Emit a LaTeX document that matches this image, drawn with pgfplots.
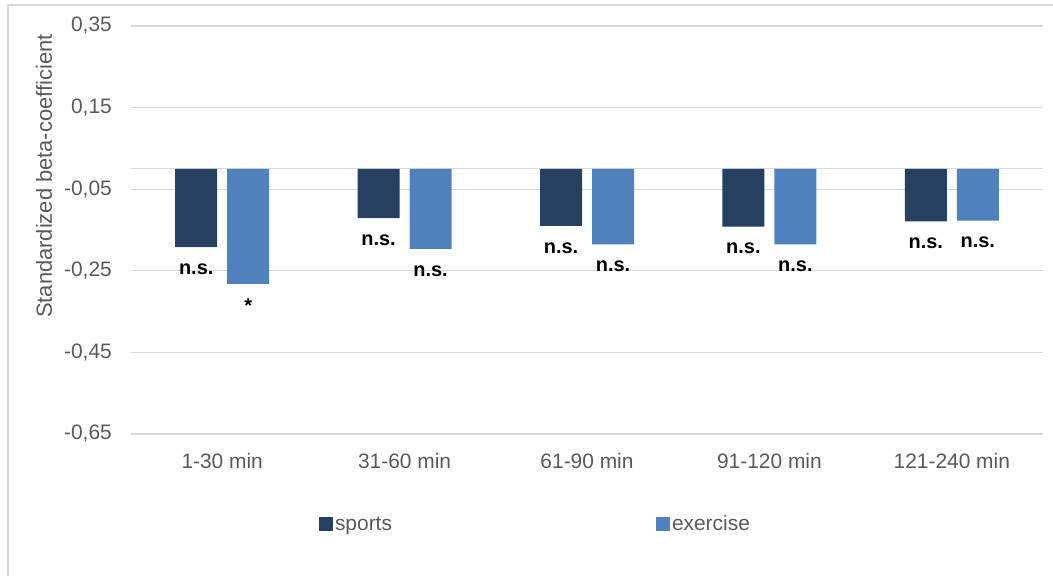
\documentclass[border=0pt]{standalone}
\usepackage{pgfplots}
\pgfplotsset{compat=1.18}
\usepackage{fontspec}
\setmainfont{Liberation Sans}
\definecolor{sportsc}{RGB}{37,64,97}
\definecolor{exc}{RGB}{79,129,189}
\definecolor{tickc}{RGB}{89,89,89}
\definecolor{gridc}{RGB}{217,217,217}
\begin{document}
\begin{tikzpicture}[x=1bp,y=1bp]
\useasboundingbox (0,0) rectangle (1053,576);
\draw[gridc, line width=1.2bp] (8,0) -- (8,571) -- (1053,571);
\begin{axis}[
  at={(131bp,142bp)}, anchor=south west,
  scale only axis, width=912bp, height=408bp,
  xmin=-0.5, xmax=4.5, ymin=-0.65, ymax=0.35,
  ybar=10bp, bar width=42bp,
  xtick={0,1,2,3,4},
  xticklabels={1-30 min,31-60 min,61-90 min,91-120 min,121-240 min},
  ytick={-0.65,-0.45,-0.25,-0.05,0.15,0.35},
  extra y ticks={0}, extra y tick labels={},
  extra y tick style={grid=major},
  ymajorgrids, major grid style={gridc, line width=1.2bp},
  major tick length=0pt,
  axis line style={draw=none},
  /pgf/number format/.cd, fixed, fixed zerofill, precision=2, use comma, assume math mode=true,
  /pgfplots/.cd,
  ticklabel style={font=\fontsize{21}{25}\selectfont, text=tickc},
  yticklabel style={anchor=east, inner sep=0pt, xshift=-19bp},
  xticklabel style={anchor=center, inner sep=0pt, yshift=-27bp},
  ylabel={Standardized beta-coefficient},
  ylabel style={at={(axis description cs:-0.0954,0.632)}, anchor=center, font=\fontsize{22}{26}\selectfont, text=tickc},
  legend style={at={(axis description cs:0.4435,-0.2206)}, anchor=center, draw=none, fill=none,
    font=\fontsize{21}{25}\selectfont, text=tickc, legend columns=2,
    /tikz/every even column/.append style={column sep=262bp},
    nodes={inner sep=2bp}},
  legend cell align=left,
  legend image code/.code={\fill[#1, draw=none] (0bp,-7bp) rectangle (14bp,7bp);},
  nodes near coords, point meta=explicit symbolic,
  every node near coord/.append style={anchor=center, yshift=-22bp, inner sep=0pt,
    font=\fontsize{20}{24}\selectfont\bfseries, text=black},
]
\addplot[fill=sportsc, draw=none] coordinates {
  (0,-0.192) [n.s.]
  (1,-0.121) [n.s.]
  (2,-0.140) [n.s.]
  (3,-0.142) [n.s.]
  (4,-0.129) [n.s.]
};
\addlegendentry{sports}
\addplot[fill=exc, draw=none] coordinates {
  (0,-0.282) [*]
  (1,-0.196) [n.s.]
  (2,-0.185) [n.s.]
  (3,-0.185) [n.s.]
  (4,-0.127) [n.s.]
};
\addlegendentry{exercise}
\end{axis}
\end{tikzpicture}
\end{document}
